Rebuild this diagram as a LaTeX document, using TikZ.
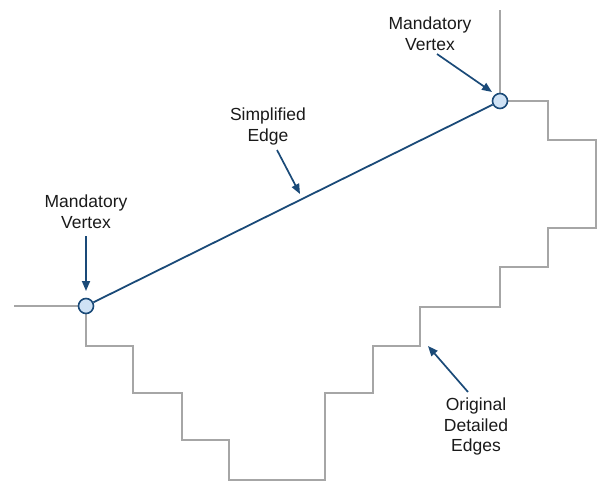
\documentclass[tikz,border=0pt]{standalone}
\usepackage{fontspec}
\setmainfont{Liberation Sans}
\usetikzlibrary{arrows.meta}
\definecolor{navy}{HTML}{1A4A78}
\definecolor{vfill}{HTML}{CFE2F5}
\definecolor{stair}{HTML}{A6A6A6}
\definecolor{txt}{HTML}{1A1A1A}
\tikzset{
  vertex/.style={circle,draw=navy,fill=vfill,line width=1.6pt,minimum size=15pt,inner sep=0pt},
  lbl/.style={align=center,anchor=north,inner sep=0pt,text=txt,font=\fontsize{17.5}{20.5}\selectfont},
  pointer/.style={draw=navy,line width=1.7pt,-{Triangle[length=10pt,width=8pt]}},
  detailed/.style={draw=stair,line width=1.8pt},
  simple/.style={draw=navy,line width=1.8pt}
}
\begin{document}
\begin{tikzpicture}[x=1pt,y=-1pt]
\useasboundingbox (0,0) rectangle (605,482);
% original detailed edges
\coordinate (p1) at (86,306);
\coordinate (p2) at (500,101);
\draw[detailed] (14,306) -- (p1);
\draw[detailed] (500,10) -- (p2);
\draw[detailed] (p1) -- (86,346) -- (133,346) -- (133,393) -- (182,393) -- (182,440)
  -- (229,440) -- (229,480) -- (325,480) -- (325,393) -- (373,393) -- (373,346)
  -- (420,346) -- (420,307) -- (500,307) -- (500,267) -- (548,267) -- (548,228)
  -- (596,228) -- (596,140) -- (548,140) -- (548,101) -- (p2);
% vertices
\node[vertex] (v1) at (p1) {};
\node[vertex] (v2) at (p2) {};
\draw[simple] (v1) -- (v2);
% labels
\node[lbl] (mtop) at (430,17) {Mandatory\\Vertex};
\node[lbl] (mleft) at (86,195) {Mandatory\\Vertex};
\node[lbl] (simp) at (268,108) {Simplified\\Edge};
\node[lbl] (orig) at (476,398) {Original\\Detailed\\Edges};
% pointers
\coordinate (t1) at (437,54);  \coordinate (h1) at (492,92);
\coordinate (t2) at (86,236);  \coordinate (h2) at (86,291);
\coordinate (t3) at (277,150); \coordinate (h3) at (300,194);
\coordinate (t4) at (468,392); \coordinate (h4) at (428,346);
\draw[pointer] (t1) -- (h1);
\draw[pointer] (t2) -- (h2);
\draw[pointer] (t3) -- (h3);
\draw[pointer] (t4) -- (h4);
\end{tikzpicture}
\end{document}
